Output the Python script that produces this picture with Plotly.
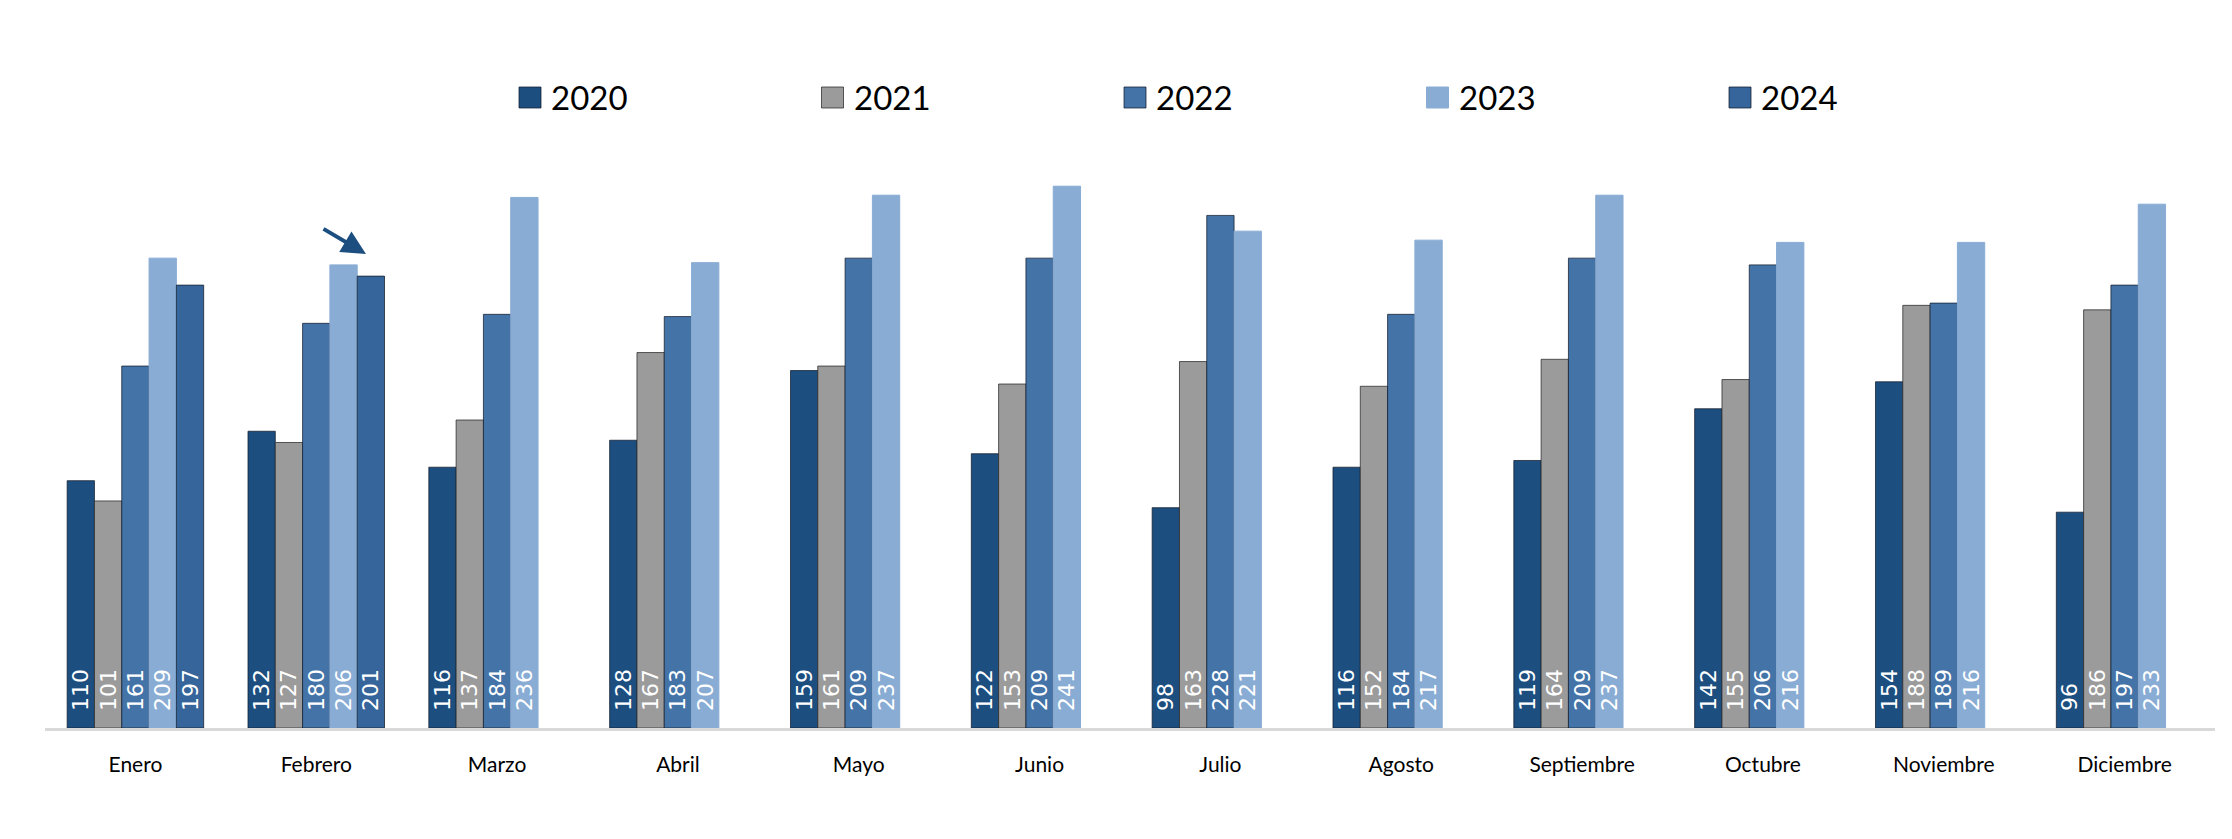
import plotly.graph_objects as go

months = ["Enero", "Febrero", "Marzo", "Abril", "Mayo", "Junio", "Julio",
          "Agosto", "Septiembre", "Octubre", "Noviembre", "Diciembre"]
years = ["2020", "2021", "2022", "2023", "2024"]

v2020 = [110, 132, 116, 128, 159, 122, 98, 116, 119, 142, 154, 96]
v2021 = [101, 127, 137, 167, 161, 153, 163, 152, 164, 155, 188, 186]
v2022 = [161, 180, 184, 183, 209, 209, 228, 184, 209, 206, 189, 197]
v2023 = [209, 206, 236, 207, 237, 241, 221, 217, 237, 216, 216, 233]
v2024 = [197, 201, None, None, None, None, None, None, None, None, None, None]

series = [v2020, v2021, v2022, v2023, v2024]
colors = ["#1C4E80", "#9B9B9B", "#4473A8", "#89ACD4", "#35659A"]
outline = ["rgba(20,30,45,0.75)", "rgba(40,40,40,0.75)", "rgba(20,30,45,0.75)",
           "rgba(137,172,212,1)", "rgba(20,30,45,0.75)"]

W, H = 2232, 839
ML, MR, MT, MB = 45, 17, 121, 111
YMAX = 270
PW = W - ML - MR
PH = H - MT - MB


def px_x(x):
    return (x - ML) / PW


def px_y(y):
    return (H - MB - y) / PH


fig = go.Figure()
for name, vals, col, oc in zip(years, series, colors, outline):
    fig.add_trace(go.Bar(
        x=months, y=vals, name=name,
        marker=dict(color=col, line=dict(color=oc, width=1)),
        text=vals,
        texttemplate="\u00a0\u00a0%{y}",
        textposition="inside",
        insidetextanchor="start",
        textangle=-90,
        constraintext="none",
        insidetextfont=dict(family="DejaVu Sans", size=22, color="white"),
        showlegend=False,
    ))

shapes = []
annotations = []
LEG_X0, LEG_STEP = 519, 302.5
for i, (name, col, oc) in enumerate(zip(years, colors, outline)):
    x0 = LEG_X0 + i * LEG_STEP
    shapes.append(dict(type="rect", xref="paper", yref="paper",
                       x0=px_x(x0), x1=px_x(x0 + 22), y0=px_y(108), y1=px_y(87),
                       fillcolor=col, line=dict(color=oc, width=1)))
    annotations.append(dict(text=name, xref="paper", yref="paper",
                            x=px_x(x0 + 30), y=px_y(97), xanchor="left", yanchor="middle",
                            showarrow=False,
                            font=dict(family="Lato", size=33, color="black")))

# arrow pointing at the Febrero 2024 bar
annotations.append(dict(text="", xref="paper", yref="paper",
                        x=px_x(366), y=px_y(254), ax=-44, ay=-26,
                        showarrow=True, arrowhead=2, arrowsize=1.2, arrowwidth=4,
                        arrowcolor="#1C4E80"))

fig.update_layout(
    width=W, height=H,
    margin=dict(l=ML, r=MR, t=MT, b=MB),
    paper_bgcolor="white", plot_bgcolor="white",
    barmode="group", bargap=0.245, bargroupgap=0,
    shapes=shapes, annotations=annotations,
    xaxis=dict(showline=True, linecolor="#D9D9D9", linewidth=3,
               showgrid=False, ticks="", ticklabelstandoff=16,
               tickfont=dict(family="Lato", size=21, color="black")),
    yaxis=dict(range=[0, YMAX], visible=False, showgrid=False, zeroline=False),
)

fig.write_html("out.html", config={"displayModeBar": False},
               post_script="document.body.style.margin='0';")
